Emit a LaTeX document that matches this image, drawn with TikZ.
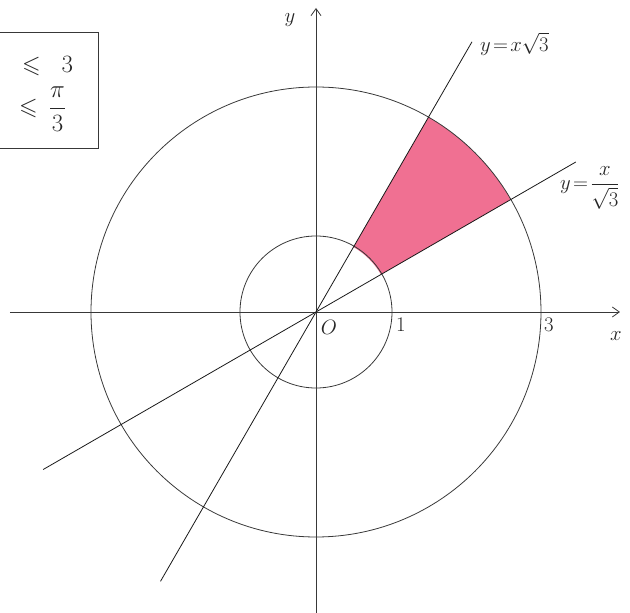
\documentclass[tikz,border=0pt]{standalone}
\usepackage{amsmath,amssymb}
\usetikzlibrary{arrows.meta}
\definecolor{sectorpink}{RGB}{238,96,134}
\tikzset{
  pen/.style={line width=0.8pt, draw=black!78},
  axis/.style={pen, -{Straight Barb[length=7pt,width=10pt]}},
  lbl/.style={font=\fontsize{20}{24}\selectfont, text=black!85, inner sep=1pt},
  bigl/.style={font=\fontsize{24}{28}\selectfont, text=black!85, inner sep=1pt}
}
\begin{document}
\begin{tikzpicture}[x=1pt,y=1pt]
\useasboundingbox (-316,-301) rectangle (314,312);
\clip (-316,-301) rectangle (314,312);
\coordinate (O) at (0,0);
% sector
\fill[sectorpink, opacity=0.9] (30:75) arc[start angle=30,end angle=60,radius=75]
  -- (60:225) arc[start angle=60,end angle=30,radius=225] -- cycle;
% circles
\draw[pen] (O) circle[radius=76];
\draw[pen] (O) circle[radius=225];
% axes
\coordinate (xl) at (-306,0); \coordinate (xr) at (304,0);
\coordinate (yb) at (0,-301); \coordinate (yt) at (0,304);
\draw[axis] (xl) -- (xr);
\draw[axis] (yb) -- (yt);
% lines
\coordinate (a1) at (240:311); \coordinate (a2) at (60:312);
\coordinate (b1) at (210:315); \coordinate (b2) at (30:300);
\draw[pen, draw=black!90] (a1) -- (a2);
\draw[pen, draw=black!90] (b1) -- (b2);
% labels
\node[lbl] (ly) at (-26,292) {$y$};
\node[lbl] (lx) at (300,-24) {$x$};
\node[lbl] (lO) at (13,-15) {$O$};
\node[lbl] (l1) at (85,-13) {$1$};
\node[lbl] (l3) at (233,-13) {$3$};
\node[lbl, anchor=west] (la) at (163,268) {$y\!=\!x\sqrt{3}$};
\node[lbl, anchor=west] (lb) at (243,124) {$y\!=\!\dfrac{x}{\sqrt{3}}$};
% box
\draw[pen] (-340,280) rectangle (-218,164);
\node[bigl, anchor=west] (c1) at (-295,246) {$\leqslant\;\; 3$};
\node[bigl, anchor=west] (c2) at (-298,203) {$\leqslant\, \dfrac{\pi}{3}$};
\end{tikzpicture}
\end{document}
